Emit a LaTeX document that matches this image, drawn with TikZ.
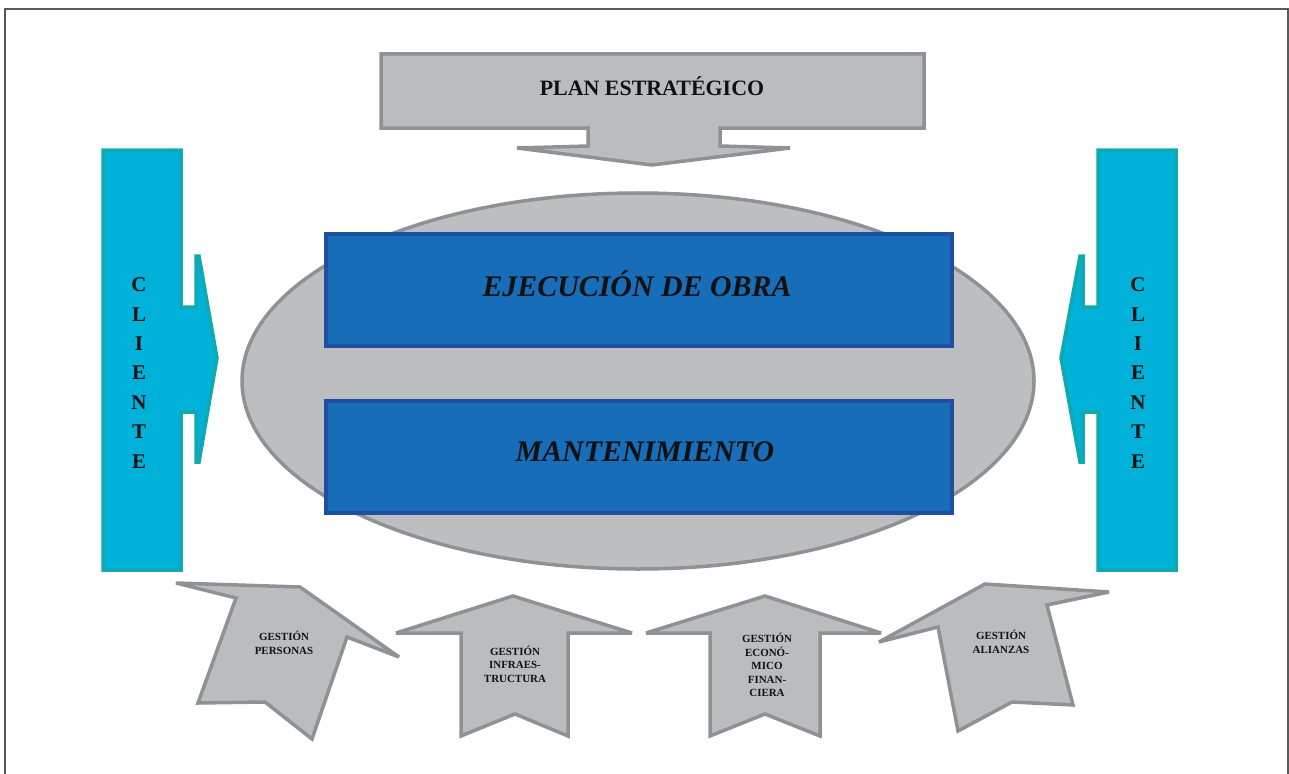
\documentclass[tikz,border=0pt]{standalone}
\usepackage{fontspec}
\setmainfont{Liberation Serif}
\usetikzlibrary{shapes.geometric}
\definecolor{grayfill}{HTML}{BABCBE}
\definecolor{grayline}{HTML}{8E9295}
\definecolor{ellfill}{HTML}{BCBEC0}
\definecolor{cyanfill}{HTML}{00B2D9}
\definecolor{cyanline}{HTML}{0FAAAD}
\definecolor{bluefill}{HTML}{176DB7}
\definecolor{blueline}{HTML}{1E4FA0}
\definecolor{txt}{HTML}{111111}
\tikzset{
  grayarrow/.style={fill=grayfill, draw=grayline, line width=3.5bp, line join=miter, miter limit=2.5},
  cyanarrow/.style={fill=cyanfill, draw=cyanline, line width=3.5bp, line join=miter, miter limit=2.5},
  bluebox/.style={fill=bluefill, draw=blueline, line width=4bp, minimum width=626bp, minimum height=112bp, inner sep=0pt},
  bluetext/.style={font=\fontsize{30}{30}\selectfont\bfseries\itshape, text=txt, inner sep=0pt},
  smalllbl/.style={font=\fontsize{11}{13.5}\selectfont\bfseries, align=center, text=txt, inner sep=0pt},
  clientelbl/.style={font=\fontsize{21}{29.5}\selectfont\bfseries, align=center, text=txt, inner sep=0pt},
}
\begin{document}
\begin{tikzpicture}[x=1bp,y=-1bp]
\useasboundingbox (0,0) rectangle (1289,774);
% frame
\draw[line width=2bp, draw=black!65] (5,776) -- (5,9) -- (1288,9) -- (1288,776);
% ellipse
\node[ellipse, draw=grayline, fill=ellfill, line width=3.5bp, minimum width=792bp, minimum height=376bp, inner sep=0pt] (ell) at (638,381) {};
% plan estrategico
\draw[grayarrow] (381,54) -- (924,54) -- (924,128) -- (720,128) -- (720,146) -- (790,148) -- (652,165) -- (517,148) -- (588,146) -- (588,128) -- (381,128) -- cycle;
\node[font=\fontsize{22}{22}\selectfont\bfseries, text=txt, inner sep=0pt] (plan) at (652,86) {PLAN ESTRATÉGICO};
% blue boxes
\node[bluebox] (ejec) at (639,290) {};
\node[bluetext] (eject) at (637,284) {EJECUCIÓN DE OBRA};
\node[bluebox] (mant) at (639,457) {};
\node[bluetext] (mantt) at (645,452) {MANTENIMIENTO};
% cliente left
\draw[cyanarrow] (103,150) -- (181,150) -- (181,307) -- (196,307) -- (196,256) -- (199,256) -- (217,358) -- (199,462) -- (196,462) -- (196,412) -- (181,412) -- (181,570) -- (103,570) -- cycle;
\node[clientelbl] (cl1) at (139,373) {C\\L\\I\\E\\N\\T\\E};
% cliente right
\draw[cyanarrow] (1176,150) -- (1098,150) -- (1098,307) -- (1083,307) -- (1083,256) -- (1080,256) -- (1061,358) -- (1080,462) -- (1083,462) -- (1083,412) -- (1098,412) -- (1098,570) -- (1176,570) -- cycle;
\node[clientelbl] (cl2) at (1138,373) {C\\L\\I\\E\\N\\T\\E};
% gestion personas
\draw[grayarrow] (176,583) -- (300,587) -- (399,657) -- (347,637) -- (312,739) -- (265,702) -- (198,703) -- (236,598) -- cycle;
\node[smalllbl] (gp) at (284,643) {GESTIÓN\\PERSONAS};
% gestion infraestructura
\draw[grayarrow] (396,633) -- (513,596) -- (632,633) -- (568,633) -- (568,736) -- (515,714) -- (461,736) -- (461,633) -- cycle;
\node[smalllbl] (gi) at (515,664) {GESTIÓN\\INFRAES-\\TRUCTURA};
% gestion economico financiera
\draw[grayarrow] (646,633) -- (765,596) -- (881,633) -- (820,633) -- (820,736) -- (765,714) -- (710,736) -- (710,633) -- cycle;
\node[smalllbl] (ge) at (767,665) {GESTIÓN\\ECONÓ-\\MICO\\FINAN-\\CIERA};
% gestion alianzas
\draw[grayarrow] (879,642) -- (985,584) -- (1109,592) -- (1047,605) -- (1073,705) -- (1012,702) -- (958,731) -- (938,627) -- cycle;
\node[smalllbl] (ga) at (1001,642) {GESTIÓN\\ALIANZAS};
\end{tikzpicture}
\end{document}
